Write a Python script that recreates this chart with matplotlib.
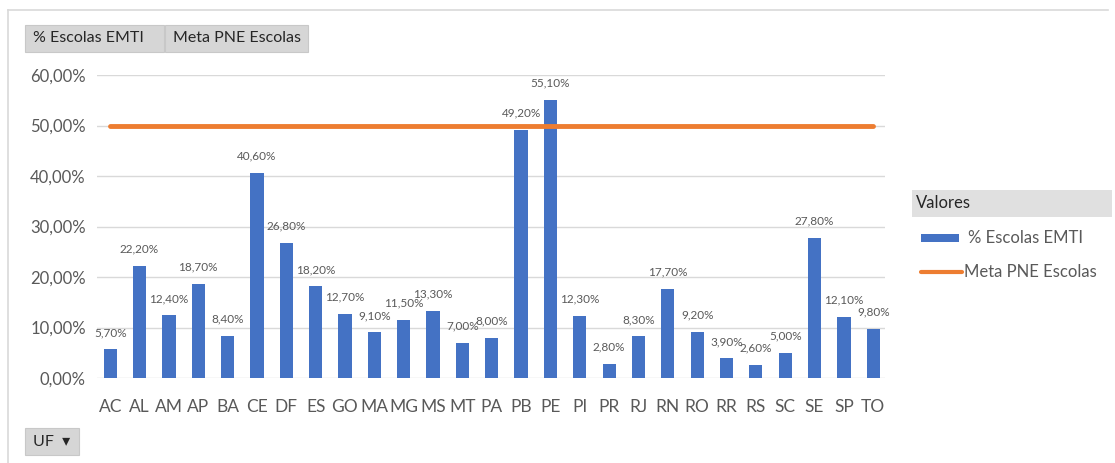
import numpy as np
import matplotlib.pyplot as plt
from matplotlib.patches import Rectangle
from matplotlib.lines import Line2D
plt.rcParams['font.family'] = ['Lato', 'DejaVu Sans']

ufs = ['AC', 'AL', 'AM', 'AP', 'BA', 'CE', 'DF', 'ES', 'GO', 'MA', 'MG', 'MS', 'MT',
       'PA', 'PB', 'PE', 'PI', 'PR', 'RJ', 'RN', 'RO', 'RR', 'RS', 'SC', 'SE', 'SP', 'TO']
emti = [5.7, 22.2, 12.4, 18.7, 8.4, 40.6, 26.8, 18.2, 12.7, 9.1, 11.5, 13.3, 7.0,
        8.0, 49.2, 55.1, 12.3, 2.8, 8.3, 17.7, 9.2, 3.9, 2.6, 5.0, 27.8, 12.1, 9.8]
meta = [50.0] * len(ufs)

blue = '#4472C4'
orange = '#ED7D31'
gray_txt = '#595959'

fig = plt.figure(figsize=(11.15, 4.63), dpi=100)
ax = fig.add_axes([97/1115, 1-378/463, (885-97)/1115, (378-75)/463])

x = np.arange(len(ufs))
ax.bar(x, emti, width=0.45, color=blue, zorder=3)
ax.plot(x, meta, color=orange, lw=3.5, zorder=4, solid_capstyle='round')

for xi, v in zip(x, emti):
    ax.annotate(('%.2f%%' % v).replace('.', ','), (xi, v), xytext=(0, 8),
                textcoords='offset points', ha='center', va='bottom',
                fontsize=8.5, color=gray_txt, zorder=5)

ax.set_xlim(-0.45, 26.4)
ax.set_ylim(0, 60)
ax.set_yticks(range(0, 61, 10))
ax.set_yticklabels([('%.2f%%' % t).replace('.', ',') for t in range(0, 61, 10)],
                   fontsize=12, color=gray_txt)
ax.set_xticks(x)
ax.set_xticklabels(ufs, fontsize=12.5, color=gray_txt)
ax.tick_params(axis='y', length=0, pad=8)
ax.tick_params(axis='x', length=0, pad=15)
ax.grid(axis='y', color='#d9d9d9', lw=1, zorder=0)
for s in ax.spines.values():
    s.set_visible(False)

# frame and buttons
fig.add_artist(Line2D([8/1115, 8/1115], [0, 1-10/463], color='#d9d9d9', lw=1.2))
fig.add_artist(Line2D([8/1115, 1108/1115], [1-10/463, 1-10/463], color='#d9d9d9', lw=1.2))

def button(x0, y0, w, h, label, fs=11.5):
    fig.add_artist(Rectangle((x0/1115, 1-(y0+h)/463), w/1115, h/463,
                             facecolor='#d6d6d6', edgecolor='#c8c8c8', lw=0.8))
    fig.text((x0+8)/1115, 1-(y0+h/2)/463, label, fontsize=fs, color='#262626',
             va='center', ha='left')

button(25, 25, 139, 27, '% Escolas EMTI')
button(165, 25, 143, 27, 'Meta PNE Escolas')
button(25, 428, 54, 27, 'UF  \u25be')

# legend
fig.add_artist(Rectangle((912/1115, 1-217/463), 200/1115, 27/463,
                         facecolor='#e0e0e0', edgecolor='none'))
fig.text(916/1115, 1-203.5/463, 'Valores', fontsize=12, color='#262626', va='center')
fig.add_artist(Rectangle((921/1115, 1-242/463), 38/1115, 8/463,
                         facecolor=blue, edgecolor='none'))
fig.text(968/1115, 1-238/463, '% Escolas EMTI', fontsize=12, color=gray_txt, va='center')
fig.add_artist(Line2D([921/1115, 962/1115], [1-272/463, 1-272/463], color=orange, lw=3,
                      solid_capstyle='round'))
fig.text(964/1115, 1-272/463, 'Meta PNE Escolas', fontsize=12, color=gray_txt, va='center')

fig.savefig('out.png', dpi=100)
